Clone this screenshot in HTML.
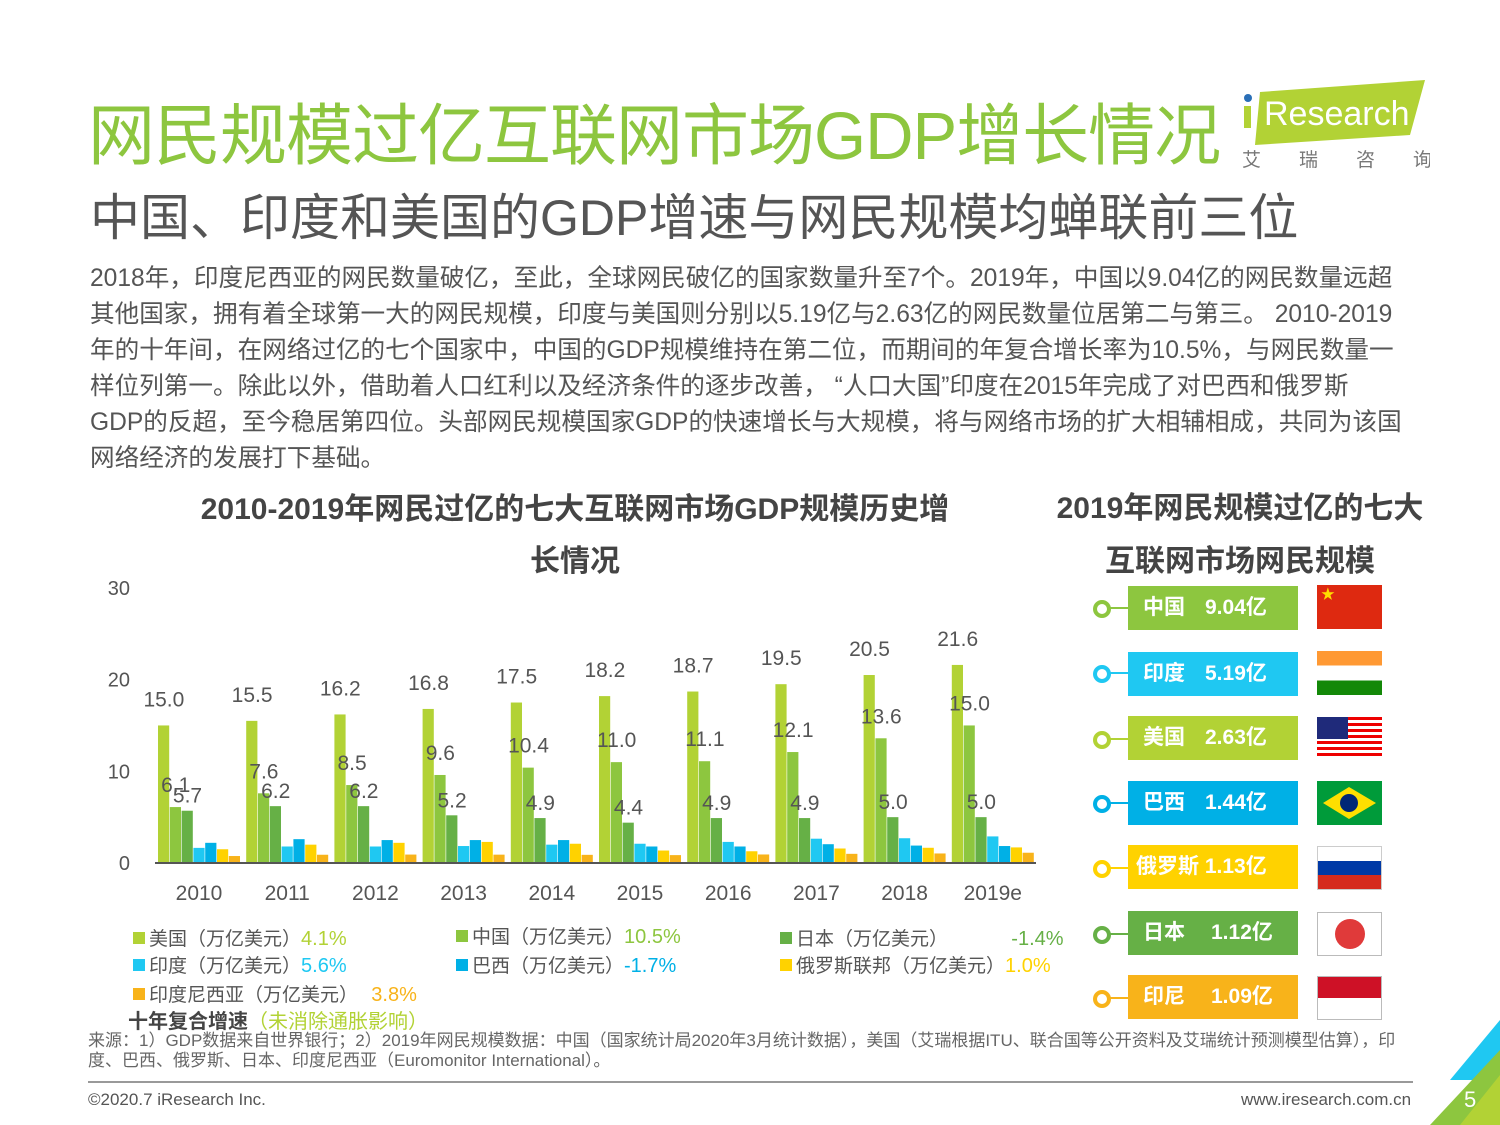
<!DOCTYPE html>
<html><head><meta charset="utf-8"><style>
body{margin:0;width:1500px;height:1125px;background:#fff;position:relative;overflow:hidden;font-family:"Liberation Sans","Noto Sans CJK SC",sans-serif;color:#555}
.a{position:absolute;white-space:nowrap}
.row{position:absolute;left:1128px;width:170px;height:44px;color:#fff;font-weight:bold;font-size:21px;line-height:44px}
.ring{position:absolute;left:1093px;width:10px;height:10px;border-radius:50%;border:4px solid}
.stem{position:absolute;left:1110px;width:18px;height:2px}
.flag{position:absolute;left:1317px;width:65px;height:44px}
.lg{position:absolute;font-size:19px;color:#555;white-space:nowrap}
.sw{display:inline-block;width:12px;height:12px;margin-right:4px;vertical-align:1px}
</style></head><body>
<div class="a" style="left:88px;top:82px;font-size:67px;color:#8dc63f;letter-spacing:-1px">网民规模过亿互联网市场GDP增长情况</div>
<div class="a" style="left:1240px;top:80px;width:190px;height:90px">
<svg width="190" height="90"><polygon points="20,12 185,0 170,55 15,65" fill="#b2d235"/><circle cx="8" cy="18" r="4" fill="#2a6fb7"/><rect x="4" y="26" width="7" height="22" fill="#b2d235"/><text x="24" y="45" font-size="34" fill="#fff" font-family="Liberation Sans">Research</text><text x="2" y="86" font-size="19" fill="#777" font-family="Noto Sans CJK SC" letter-spacing="38">艾瑞咨询</text></svg></div>
<div class="a" style="left:90px;top:178px;font-size:50px;color:#555">中国、印度和美国的GDP增速与网民规模均蝉联前三位</div>
<div class="a" style="left:90px;top:261px;font-size:24.6px;line-height:36px;color:#555">2018年，印度尼西亚的网民数量破亿，至此，全球网民破亿的国家数量升至7个。2019年，中国以9.04亿的网民数量远超<br>其他国家，拥有着全球第一大的网民规模，印度与美国则分别以5.19亿与2.63亿的网民数量位居第二与第三。 2010-2019<br>年的十年间，在网络过亿的七个国家中，中国的GDP规模维持在第二位，而期间的年复合增长率为10.5%，与网民数量一<br>样位列第一。除此以外，借助着人口红利以及经济条件的逐步改善， “人口大国”印度在2015年完成了对巴西和俄罗斯<br>GDP的反超，至今稳居第四位。头部网民规模国家GDP的快速增长与大规模，将与网络市场的扩大相辅相成，共同为该国<br>网络经济的发展打下基础。</div>
<div class="a" style="left:150px;top:484px;width:850px;text-align:center;font-size:30px;font-weight:bold;color:#444;line-height:52px;white-space:normal">2010-2019年网民过亿的七大互联网市场GDP规模历史增<br>长情况</div>
<div class="a" style="left:1040px;top:482px;width:400px;text-align:center;font-size:30px;font-weight:bold;color:#444;line-height:53px">2019年网民规模过亿的七大<br>互联网市场网民规模</div>
<svg id="chart" class="a" style="left:0;top:0" width="1060" height="920"></svg>
<script>
const years=["2010","2011","2012","2013","2014","2015","2016","2017","2018","2019e"];
const usa=[15.0,15.5,16.2,16.8,17.5,18.2,18.7,19.5,20.5,21.6];
const china=[6.1,7.6,8.5,9.6,10.4,11.0,11.1,12.1,13.6,15.0];
const japan=[5.7,6.2,6.2,5.2,4.9,4.4,4.9,4.9,5.0,5.0];
const india=[1.65,1.8,1.8,1.85,2.0,2.1,2.3,2.65,2.7,2.9];
const brazil=[2.2,2.6,2.5,2.5,2.5,1.8,1.8,2.05,1.9,1.85];
const russia=[1.5,2.0,2.2,2.3,2.1,1.36,1.28,1.58,1.66,1.7];
const indonesia=[0.76,0.9,0.92,0.91,0.89,0.86,0.93,1.0,1.04,1.12];
const yTicks=[0,10,20,30];
const svg=document.getElementById('chart');const NS="http://www.w3.org/2000/svg";
const y0=863,pxPer=9.17,x0=155,band=88.2,bw=11.8;
const Y=v=>y0-v*pxPer;const X=(i,k)=>x0+i*band+3+k*bw;
function mk(t,a){const e=document.createElementNS(NS,t);for(const k in a)e.setAttribute(k,a[k]);svg.appendChild(e);return e;}
yTicks.forEach(t=>{const e=mk('text',{x:130,y:Y(t)+7,'text-anchor':'end','font-size':20,fill:'#555','font-family':'Liberation Sans'});e.textContent=t;

});
const series=[usa,china,japan,india,brazil,russia,indonesia];
const cols=['#b2d235','#8dc63f','#66b046','#1fc8f2','#00b0e6','#ffd200','#f8b31a'];
const names=['usa','china','japan','india','brazil','russia','indonesia'];
series.forEach((s,k)=>s.forEach((v,i)=>{const r=mk('rect',{x:X(i,k),y:Y(v),width:bw-0.6,height:v*pxPer,fill:cols[k]});

}));
mk('line',{x1:155,x2:1036,y1:y0,y2:y0,stroke:'#555','stroke-width':2});
years.forEach((yr,i)=>{const c=x0+i*band+44;const t=mk('text',{x:c,y:900,'text-anchor':'middle','font-size':21,fill:'#555','font-family':'Liberation Sans'});t.textContent=yr;

});
function lab(v,k,i,dy){const t=mk('text',{x:X(i,k)+bw/2,y:Y(v)-dy,'text-anchor':'middle','font-size':21,fill:'#555','font-family':'Liberation Sans'});t.textContent=v.toFixed(1);

}
years.forEach((y,i)=>{lab(usa[i],0,i,19);lab(china[i],1,i,15);lab(japan[i],2,i,8);});
</script>
<div class="lg" style="left:133px;top:924px"><span class="sw" style="background:#b2d235"></span>美国（万亿美元）<span style="color:#b2d235;font-size:20px">4.1%</span></div>
<div class="lg" style="left:456px;top:922px"><span class="sw" style="background:#8dc63f"></span>中国（万亿美元）<span style="color:#8dc63f;font-size:20px">10.5%</span></div>
<div class="lg" style="left:780px;top:924px"><span class="sw" style="background:#66b046"></span>日本（万亿美元） <span style="color:#66b046;margin-left:58px;font-size:20px">-1.4%</span></div>
<div class="lg" style="left:133px;top:951px"><span class="sw" style="background:#1fc8f2"></span>印度（万亿美元）<span style="color:#1fc8f2;font-size:20px">5.6%</span></div>
<div class="lg" style="left:456px;top:951px"><span class="sw" style="background:#00b0e6"></span>巴西（万亿美元）<span style="color:#00b0e6;font-size:20px">-1.7%</span></div>
<div class="lg" style="left:780px;top:951px"><span class="sw" style="background:#ffd200"></span>俄罗斯联邦（万亿美元）<span style="color:#ffd200;font-size:20px">1.0%</span></div>
<div class="lg" style="left:133px;top:980px"><span class="sw" style="background:#f8b31a"></span>印度尼西亚（万亿美元） <span style="color:#f8b31a;margin-left:8px;font-size:20px">3.8%</span></div>
<div class="lg" style="left:128px;top:1005px;font-weight:bold;color:#444;font-size:20px">十年复合增速<span style="color:#b2d235;font-weight:normal">（未消除通胀影响）</span></div>
<div class="a" style="left:88px;top:1031px;font-size:17px;line-height:20px;color:#666">来源：1）GDP数据来自世界银行；2）2019年网民规模数据：中国（国家统计局2020年3月统计数据），美国（艾瑞根据ITU、联合国等公开资料及艾瑞统计预测模型估算），印<br>度、巴西、俄罗斯、日本、印度尼西亚（Euromonitor International）。</div>
<div class="a" style="left:88px;top:1081px;width:1325px;height:2px;background:#999"></div>
<div class="a" style="left:88px;top:1090px;font-size:17px;color:#555">©2020.7 iResearch Inc.</div>
<div class="a" style="left:1241px;top:1090px;font-size:17px;color:#555">www.iresearch.com.cn</div>
<svg class="a" style="left:1420px;top:1020px" width="80" height="105"><polygon points="80,0 80,60 30,60" fill="#1fc8f2"/><polygon points="80,30 80,105 10,105" fill="#8dc63f"/><polygon points="80,55 80,105 40,105" fill="#b2d235"/></svg>
<div class="a" style="left:1464px;top:1087px;font-size:22px;color:#fff">5</div>
<div>
<div class="ring" style="top:600px;border-color:#8dc63f"></div><div class="stem" style="top:607px;background:#8dc63f"></div>
<div class="row" style="top:586px;background:#8dc63f"><span style="margin-left:15px">中国</span><span style="margin-left:20px">9.04亿</span></div>
<div class="ring" style="top:665px;border-color:#1fc8f2"></div><div class="stem" style="top:672px;background:#1fc8f2"></div>
<div class="row" style="top:652px;background:#1fc8f2"><span style="margin-left:15px">印度</span><span style="margin-left:20px">5.19亿</span></div>
<div class="ring" style="top:731px;border-color:#b2d235"></div><div class="stem" style="top:738px;background:#b2d235"></div>
<div class="row" style="top:716px;background:#b2d235"><span style="margin-left:15px">美国</span><span style="margin-left:20px">2.63亿</span></div>
<div class="ring" style="top:795px;border-color:#00b0e6"></div><div class="stem" style="top:802px;background:#00b0e6"></div>
<div class="row" style="top:781px;background:#00b0e6"><span style="margin-left:15px">巴西</span><span style="margin-left:20px">1.44亿</span></div>
<div class="ring" style="top:860px;border-color:#ffd200"></div><div class="stem" style="top:867px;background:#ffd200"></div>
<div class="row" style="top:845px;background:#ffd200"><span style="margin-left:8px">俄罗斯 1.13亿</span></div>
<div class="ring" style="top:926px;border-color:#66b046"></div><div class="stem" style="top:933px;background:#66b046"></div>
<div class="row" style="top:911px;background:#66b046"><span style="margin-left:15px">日本</span><span style="margin-left:26px">1.12亿</span></div>
<div class="ring" style="top:990px;border-color:#f8b31a"></div><div class="stem" style="top:997px;background:#f8b31a"></div>
<div class="row" style="top:975px;background:#f8b31a"><span style="margin-left:15px">印尼</span><span style="margin-left:26px">1.09亿</span></div>
</div>
<div class="flag" style="top:585px;background:#de2910;color:#ffde00;font-size:14px;line-height:18px">&nbsp;★</div>
<div class="flag" style="top:651px;background:linear-gradient(#ff9933 0 33%,#fff 33% 67%,#138808 67%)"></div>
<div class="flag" style="top:717px;height:41px;background:repeating-linear-gradient(#e00 0 3px,#fff 3px 6px)"><div style="width:31px;height:22px;background:#1f2a7a"></div></div>
<div class="flag" style="top:781px;background:#009b3a"><svg width="65" height="44"><polygon points="6,22 32,6 59,22 32,38" fill="#fedf00"/><circle cx="32" cy="22" r="9" fill="#002776"/></svg></div>
<div class="flag" style="top:846px;box-sizing:border-box;border:1px solid #ccc;background:linear-gradient(#fff 0 33%,#0039a6 33% 67%,#d52b1e 67%)"></div>
<div class="flag" style="top:912px;box-sizing:border-box;border:1px solid #bbb;background:#fff"><div style="width:30px;height:30px;border-radius:50%;background:#e03a3a;margin:6px auto"></div></div>
<div class="flag" style="top:976px;box-sizing:border-box;border:1px solid #bbb;background:linear-gradient(#ce1126 0 50%,#fff 50%)"></div>
</body></html>
